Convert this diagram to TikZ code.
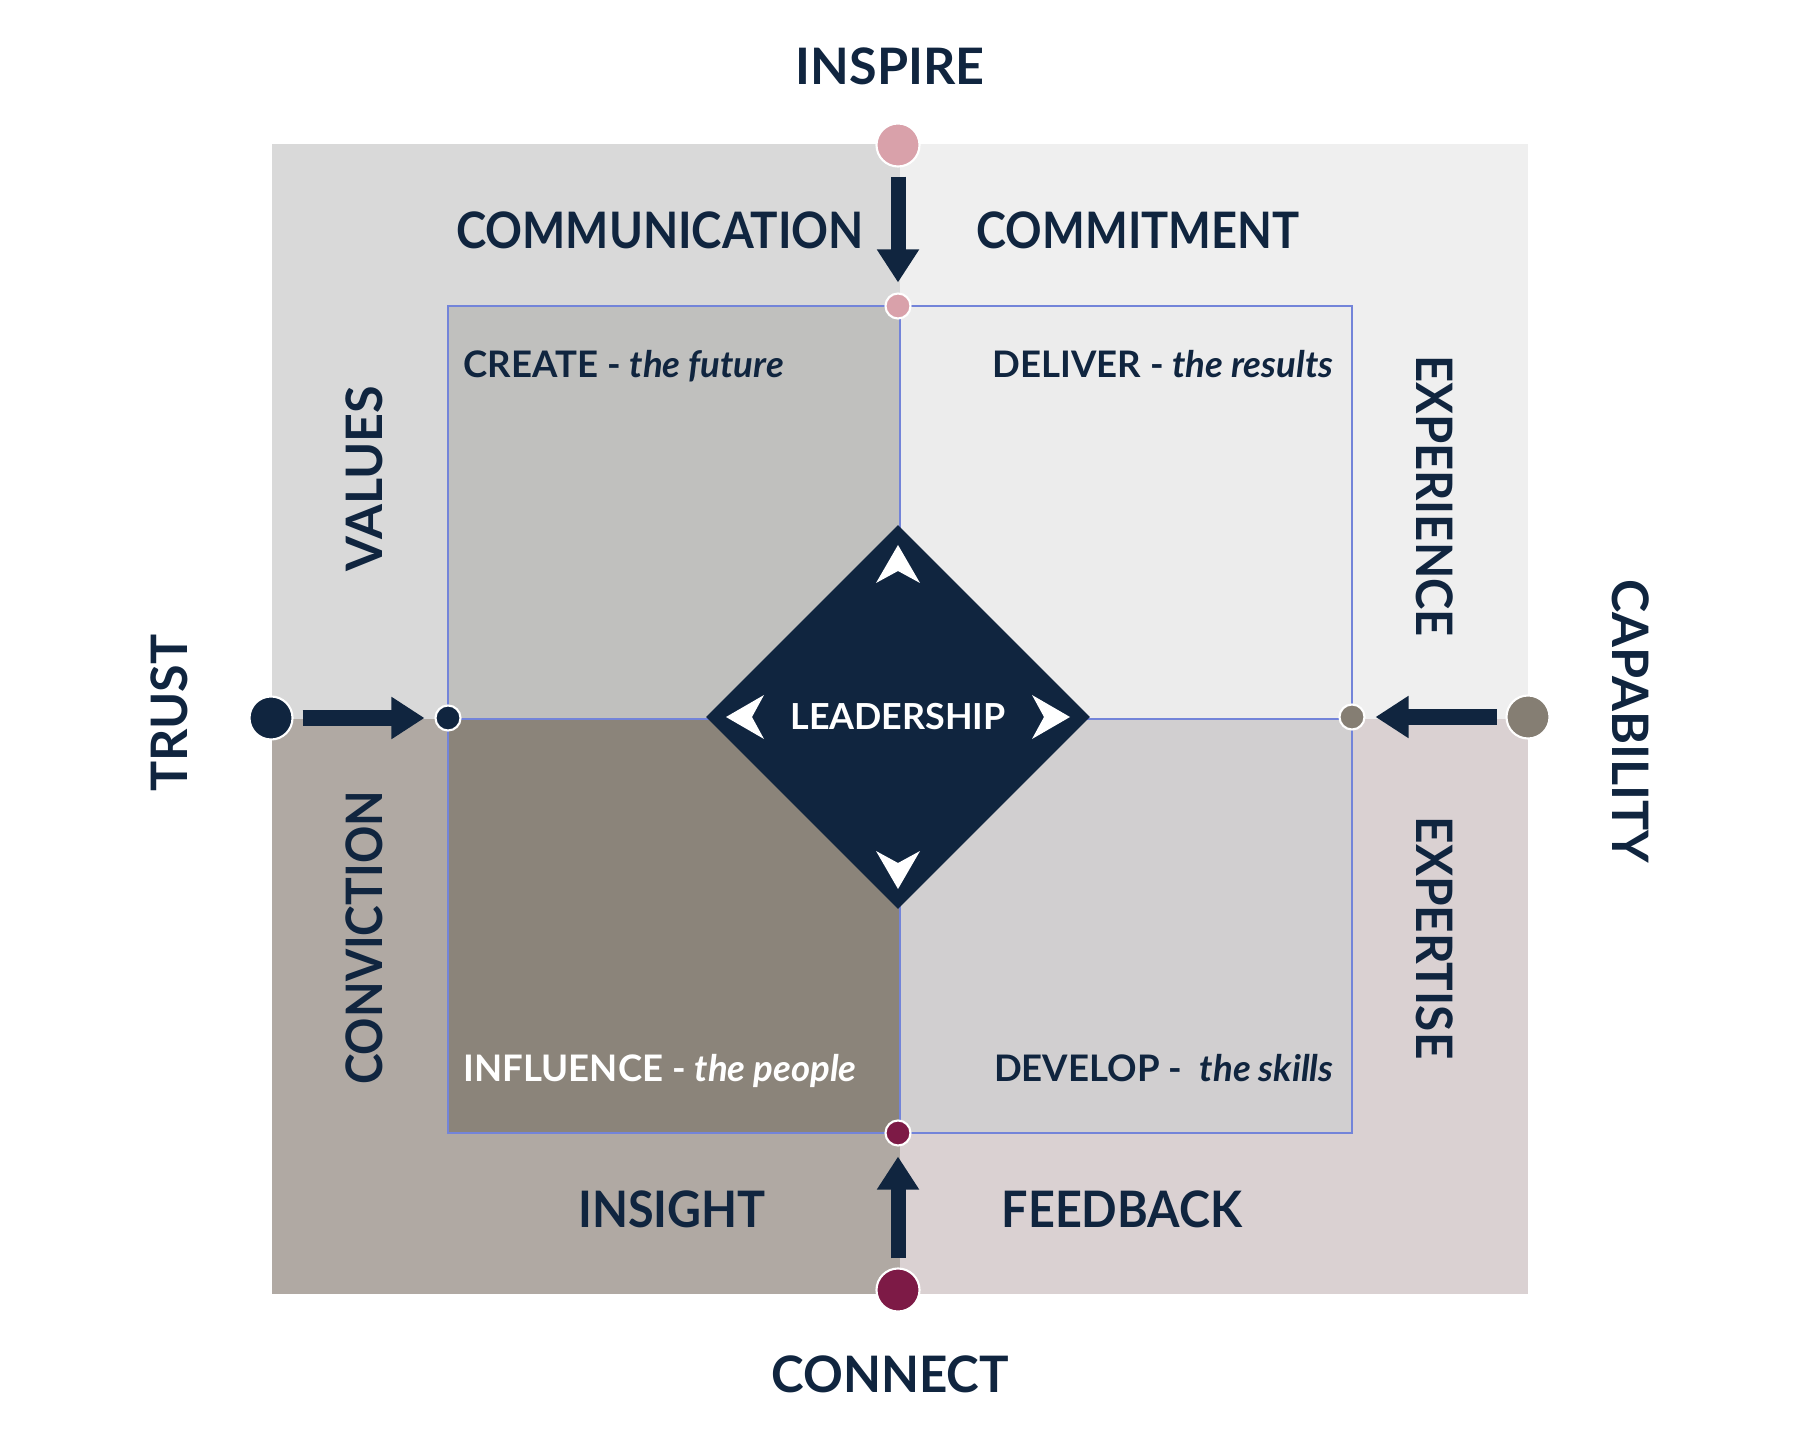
\documentclass[tikz,border=0pt]{standalone}
\usepackage{fontspec}
\setmainfont{Lato}
\usetikzlibrary{shapes.geometric, arrows.meta}

\definecolor{navy}{HTML}{10253F}
\definecolor{rosedot}{HTML}{D9A1AA}
\definecolor{wine}{HTML}{7D1A46}
\definecolor{taupe}{HTML}{857E73}
\definecolor{outerTL}{HTML}{D9D9D9}
\definecolor{outerTR}{HTML}{EFEFEF}
\definecolor{outerBL}{HTML}{B0A9A3}
\definecolor{outerBR}{HTML}{DAD1D2}
\definecolor{innerTL}{HTML}{C0C0BE}
\definecolor{innerTR}{HTML}{ECECEC}
\definecolor{innerBL}{HTML}{8B847A}
\definecolor{innerBR}{HTML}{D1CFD0}
\definecolor{gridline}{HTML}{7384D9}

\tikzset{
	bigword/.style={font=\bfseries\fontsize{14.3}{16}\selectfont, text=navy, inner sep=0pt},
	upword/.style={bigword, rotate=90},
	downword/.style={bigword, rotate=-90},
	quadtext/.style={font=\bfseries\fontsize{10.4}{12}\selectfont, text=navy, inner sep=0pt},
	bigdot/.style={circle, draw=white, line width=0.6pt, minimum size=0.43cm, inner sep=0pt, outer sep=0pt},
	smalldot/.style={circle, draw=white, line width=0.6pt, minimum size=0.25cm, inner sep=0pt, outer sep=0pt},
	flow/.style={draw=navy, line width=0.15cm, -{Triangle[width=0.4cm,length=0.33cm]}, shorten <=0.1cm, shorten >=0.11cm},
	frame/.style={draw=gridline, line width=0.4pt}
}

\begin{document}
\begin{tikzpicture}[x=0.01cm, y=-0.01cm]
			\useasboundingbox (0,0) rectangle (1800,1440);
			% outer field
			\fill[outerTL] (272,144) rectangle (900,719);
			\fill[outerTR] (900,144) rectangle (1528,719);
			\fill[outerBL] (272,719) rectangle (900,1294);
			\fill[outerBR] (900,719) rectangle (1528,1294);
			% inner field
			\fill[innerTL] (448,306) rectangle (900,719);
			\fill[innerTR] (900,306) rectangle (1352,719);
			\fill[innerBL] (448,719) rectangle (900,1133);
			\fill[innerBR] (900,719) rectangle (1352,1133);
			\draw[frame] (448,306) rectangle (1352,1133);
			\draw[frame] (900,306) -- (900,1133);
			\draw[frame] (448,719) -- (1352,719);

			\node[diamond, fill=navy, minimum width=3.84cm, minimum height=3.84cm, inner sep=0pt, text=white, font=\bfseries\fontsize{10.2}{12}\selectfont] (lead) at (898,717) {LEADERSHIP};
			\foreach \a in {0,90,180,270}
				\fill[white, shift={(lead.center)}, rotate=\a] (172,0) -- (134,22) -- (146,0) -- (134,-22) -- cycle;

			% dots and arrows
			\node[bigdot, fill=rosedot] (inspire) at (898,145) {};
			\node[smalldot, fill=rosedot] (topdot) at (898,306) {};
			\node[bigdot, fill=navy] (trust) at (271,718) {};
			\node[smalldot, fill=navy] (leftdot) at (448,718) {};
			\node[bigdot, fill=taupe] (capab) at (1528,717) {};
			\node[smalldot, fill=taupe] (rightdot) at (1352,717) {};
			\node[bigdot, fill=wine] (connect) at (898,1290) {};
			\node[smalldot, fill=wine] (botdot) at (898,1133) {};
			\draw[flow] (inspire) -- (topdot);
			\draw[flow] (trust) -- (leftdot);
			\draw[flow] (capab) -- (rightdot);
			\draw[flow] (connect) -- (botdot);

			% words round the field
			\node[bigword] (inspireword) at (890,66) {INSPIRE};
			\node[bigword, xscale=0.98] (connectword) at (890,1374) {CONNECT};
			\node[upword] (trustword) at (169,713) {TRUST};
			\node[downword] (capabword) at (1631,721) {CAPABILITY};
			\node[bigword, xscale=0.91] (comm) at (660,230) {COMMUNICATION};
			\node[bigword, xscale=0.9] (commit) at (1138,230) {COMMITMENT};
			\node[bigword, xscale=0.93] (insight) at (672,1209) {INSIGHT};
			\node[bigword, xscale=0.93] (feedback) at (1122,1209) {FEEDBACK};
			\node[upword] (values) at (364,479) {VALUES};
			\node[upword, xscale=0.92] (conviction) at (364,938) {CONVICTION};
			\node[downword, xscale=0.94] (experience) at (1435,496) {EXPERIENCE};
			\node[downword, xscale=0.95] (expertise) at (1435,938) {EXPERTISE};

			% quadrant texts
			\node[quadtext, anchor=base west] (create) at (463,378) {CREATE - \textit{the future}};
			\node[quadtext, anchor=base east] (deliver) at (1334,378) {DELIVER - \textit{the results}};
			\node[quadtext, anchor=base west, text=white] (influence) at (463,1081) {INFLUENCE - \textit{the people}};
			\node[quadtext, anchor=base east] (develop) at (1334,1081) {DEVELOP - \ \textit{the skills}};
		\end{tikzpicture}
\end{document}
